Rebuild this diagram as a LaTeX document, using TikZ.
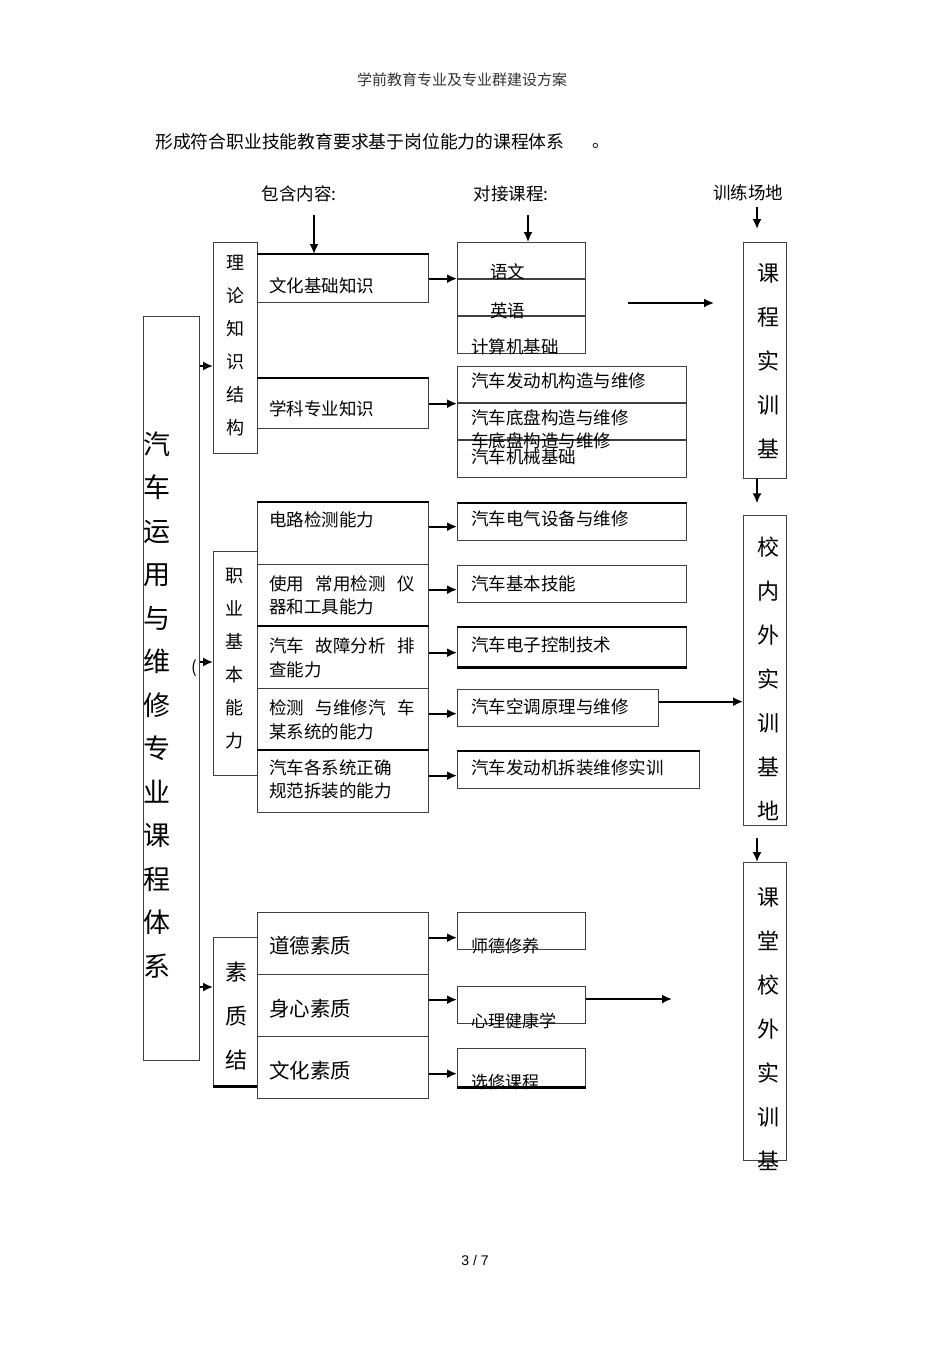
\documentclass[tikz,border=0pt]{standalone}
\usepackage{fontspec}
\setmainfont{Noto Sans CJK SC}
\newfontfamily\latinfont{Liberation Sans}
\usetikzlibrary{arrows.meta}
\newcommand{\jline}[1]{\makebox[146pt][s]{#1}}

\begin{document}
\begin{tikzpicture}[x = 1pt, y = -1pt,
    box/.style = {draw = black!75, line width = 1.3pt, inner sep = 0pt,
      anchor = north west},
    heavy/.style = {line width = 2.4pt},
    rule/.style = {draw = black!75, line width = 1.3pt},
    arr/.style = {-{Latex[length = 10pt, width = 9pt]}, line width = 1.7pt},
    txt/.style = {inner sep = 0pt, anchor = west,
      font = \fontsize{17.5}{23.5}\selectfont, align = left},
    vtxt/.style = {inner sep = 0pt, align = center}]
  \useasboundingbox (0, 0) rectangle (950, 1345);

  % page head
  \node[inner sep = 0pt, text = black!80, font = \fontsize{15}{18}\selectfont]
    (header) at (462, 80) {学前教育专业及专业群建设方案};
  \node[txt, font = \fontsize{17.8}{22}\selectfont]
    (intro) at (155, 142) {形成符合职业技能教育要求基于岗位能力的课程体系};
  \node[txt, font = \fontsize{17}{20}\selectfont] (stop) at (592, 146) {。};

  % column heads
  \node[inner sep = 0pt, font = \fontsize{17.5}{20}\selectfont]
    (hdcontent) at (299, 194) {包含内容:};
  \node[inner sep = 0pt, font = \fontsize{17.5}{20}\selectfont]
    (hdcourse) at (511, 194) {对接课程:};
  \node[inner sep = 0pt, font = \fontsize{17.5}{20}\selectfont]
    (hdsite) at (748, 193) {训练场地};
  \coordinate (cc) at (314, 215);
  \coordinate (ck) at (528, 215);
  \coordinate (cs) at (757, 207);

  % main column
  \node[box, minimum width = 56, minimum height = 744] (system) at (143, 316) {};
  \node[vtxt, font = \fontsize{27}{43.5}\selectfont] (systemtxt) at (157, 705)
    {汽\\车\\运\\用\\与\\维\\修\\专\\业\\课\\程\\体\\系};
  \node[inner sep = 0pt, font = \fontsize{17}{20}\selectfont] (paren) at (194, 668) {(};

  % theory knowledge
  \node[box, minimum width = 44, minimum height = 211] (theory) at (213, 242) {};
  \node[vtxt, font = \fontsize{18}{33}\selectfont] (theorytxt) at (235, 346)
    {理\\论\\知\\识\\结\\构};
  \node[box, minimum width = 171, minimum height = 48] (culture) at (257, 254) {};
  \draw[heavy] (culture.north west) -- (culture.north east);
  \node[txt] (culturetxt) at (269, 286) {文化基础知识};
  \node[box, minimum width = 171, minimum height = 50] (subject) at (257, 378) {};
  \draw[heavy] (subject.north west) -- (subject.north east);
  \node[txt] (subjecttxt) at (269, 409) {学科专业知识};

  \node[box, minimum width = 128, minimum height = 111] (general) at (457, 242) {};
  \draw[rule] (457, 279) -- (585, 279);
  \draw[rule] (457, 316) -- (585, 316);
  \node[txt] (chinese) at (490, 272) {语文};
  \node[txt] (english) at (490, 311) {英语};
  \node[txt] (computer) at (471, 347) {计算机基础};

  \node[box, minimum width = 229, minimum height = 111] (major) at (457, 366) {};
  \draw[rule] (457, 403) -- (686, 403);
  \draw[rule] (457, 440) -- (686, 440);
  \node[txt] (engine) at (471, 381) {汽车发动机构造与维修};
  \node[txt] (chassis) at (471, 418) {汽车底盘构造与维修};
  \node[txt] (chassisb) at (471, 441) {车底盘构造与维修};
  \node[txt] (mechanic) at (471, 457) {汽车机械基础};

  % professional ability
  \node[box, minimum width = 44, minimum height = 224] (ability) at (213, 551) {};
  \node[vtxt, font = \fontsize{18}{33}\selectfont] (abilitytxt) at (234, 659)
    {职\\业\\基\\本\\能\\力};
  \node[box, minimum width = 171, minimum height = 62] (circuit) at (257, 502) {};
  \draw[heavy] (circuit.north west) -- (circuit.north east);
  \node[txt] (circuittxt) at (269, 520) {电路检测能力};
  \node[box, minimum width = 171, minimum height = 62] (tools) at (257, 564) {};
  \node[txt] (toolstxt) at (269, 595.5) {\jline{使用\hfill 常用检测\hfill 仪}\\器和工具能力};
  \node[box, minimum width = 171, minimum height = 62] (fault) at (257, 626) {};
  \draw[heavy] (fault.north west) -- (fault.north east);
  \node[txt] (faulttxt) at (269, 658) {\jline{汽车\hfill 故障分析\hfill 排}\\查能力};
  \node[box, minimum width = 171, minimum height = 62] (repair) at (257, 688) {};
  \node[txt] (repairtxt) at (269, 720) {\jline{检测\hfill 与维修汽\hfill 车}\\某系统的能力};
  \node[box, minimum width = 171, minimum height = 62] (assembly) at (257, 750) {};
  \draw[heavy] (assembly.north west) -- (assembly.north east);
  \node[txt] (assemblytxt) at (269, 779.5) {汽车各系统正确\\规范拆装的能力};

  \node[box, minimum width = 229, minimum height = 37] (electric) at (457, 503) {};
  \draw[heavy] (electric.north west) -- (electric.north east);
  \node[txt] (electrictxt) at (471, 519) {汽车电气设备与维修};
  \node[box, minimum width = 229, minimum height = 37] (skill) at (457, 565) {};
  \node[txt] (skilltxt) at (471, 584) {汽车基本技能};
  \node[box, minimum width = 229, minimum height = 39] (control) at (457, 627) {};
  \draw[heavy] (control.north west) -- (control.north east);
  \draw[heavy] (control.south west) -- (control.south east);
  \node[txt] (controltxt) at (471, 645) {汽车电子控制技术};
  \node[box, minimum width = 201, minimum height = 37] (aircon) at (457, 689) {};
  \node[txt] (aircontxt) at (471, 707) {汽车空调原理与维修};
  \node[box, minimum width = 242, minimum height = 37] (training) at (457, 751) {};
  \draw[heavy] (training.north west) -- (training.north east);
  \node[txt] (trainingtxt) at (471, 768) {汽车发动机拆装维修实训};

  % quality
  \node[box, minimum width = 44, minimum height = 148] (quality) at (213, 937) {};
  \draw[heavy] (quality.south west) -- (quality.south east);
  \node[vtxt, font = \fontsize{22}{44}\selectfont] (qualitytxt) at (236, 1016)
    {素\\质\\结};
  \node[box, minimum width = 171, minimum height = 62] (moral) at (257, 912) {};
  \node[txt, font = \fontsize{20.5}{24}\selectfont] (moraltxt) at (269, 946) {道德素质};
  \node[box, minimum width = 171, minimum height = 62] (mind) at (257, 974) {};
  \node[txt, font = \fontsize{20.5}{24}\selectfont] (mindtxt) at (269, 1009) {身心素质};
  \node[box, minimum width = 171, minimum height = 62] (letters) at (257, 1036) {};
  \node[txt, font = \fontsize{20.5}{24}\selectfont] (letterstxt) at (269, 1071) {文化素质};

  \node[box, minimum width = 128, minimum height = 37] (ethics) at (457, 912) {};
  \node[txt, font = \fontsize{17}{20}\selectfont] (ethicstxt) at (471, 946) {师德修养};
  \node[box, minimum width = 128, minimum height = 37] (psych) at (457, 986) {};
  \node[txt, font = \fontsize{17}{20}\selectfont] (psychtxt) at (471, 1021) {心理健康学};
  \node[box, minimum width = 128, minimum height = 38] (elective) at (457, 1048) {};
  \draw[heavy] (elective.south west) -- (elective.south east);
  \node[txt, font = \fontsize{17}{20}\selectfont] (electivetxt) at (471, 1082) {选修课程};

  % training sites
  \node[box, minimum width = 43, minimum height = 236] (site1) at (743, 242) {};
  \node[vtxt, font = \fontsize{22}{44}\selectfont] (site1txt) at (768, 361)
    {课\\程\\实\\训\\基};
  \node[box, minimum width = 43, minimum height = 310] (site2) at (743, 515) {};
  \node[vtxt, font = \fontsize{22}{44}\selectfont] (site2txt) at (768, 679)
    {校\\内\\外\\实\\训\\基\\地};
  \node[box, minimum width = 43, minimum height = 298] (site3) at (743, 862) {};
  \node[vtxt, font = \fontsize{22}{44}\selectfont] (site3txt) at (768, 1029)
    {课\\堂\\校\\外\\实\\训\\基};

  % arrows
  \draw[arr] (cc) -- (cc |- culture.north);
  \draw[arr] (ck) -- (ck |- general.north);
  \draw[arr] (cs) -- ++(0, 22);
  \draw[arr] (site1.south -| cs) -- ++(0, 24);
  \draw[arr] ([yshift = 24pt]site3.north -| cs) -- (site3.north -| cs);

  \draw[arr] (system.east |- 0, 366) -- (theory.west |- 0, 366);
  \draw[arr] (system.east |- 0, 662) -- (ability.west |- 0, 662);
  \draw[arr] (system.east |- 0, 987) -- (quality.west |- 0, 987);

  \draw[arr] (culture.east) -- (culture.east -| general.west);
  \draw[arr] (subject.east) -- (subject.east -| major.west);
  \coordinate (free1) at (628, 303);
  \coordinate (free2) at (714, 303);
  \draw[arr] (free1) -- (free2);

  \draw[arr] ([yshift = 7pt]circuit.east) -- ([yshift = 7pt]circuit.east -| electric.west);
  \draw[arr] ([yshift = 6pt]tools.east) -- ([yshift = 6pt]tools.east -| skill.west);
  \draw[arr] ([yshift = 5pt]fault.east) -- ([yshift = 5pt]fault.east -| control.west);
  \draw[arr] ([yshift = 6pt]repair.east) -- ([yshift = 6pt]repair.east -| aircon.west);
  \draw[arr] ([yshift = 6pt]assembly.east) -- ([yshift = 6pt]assembly.east -| training.west);
  \draw[arr] ([yshift = 6.5pt]aircon.east) -- ([yshift = 6.5pt]aircon.east -| site2.west);

  \draw[arr] ([yshift = 6pt]moral.east) -- ([yshift = 6pt]moral.east -| ethics.west);
  \draw[arr] ([yshift = 6pt]mind.east) -- ([yshift = 6pt]mind.east -| psych.west);
  \draw[arr] ([yshift = -6pt]letters.east) -- ([yshift = -6pt]letters.east -| elective.west);
  \coordinate (free3) at (672, 999);
  \draw[arr] (psych.east |- free3) -- (free3);

  % page number
  \node[inner sep = 0pt, font = \latinfont\fontsize{14}{16}\selectfont]
    (pageno) at (475, 1260) {3 / 7};
\end{tikzpicture}
\end{document}
